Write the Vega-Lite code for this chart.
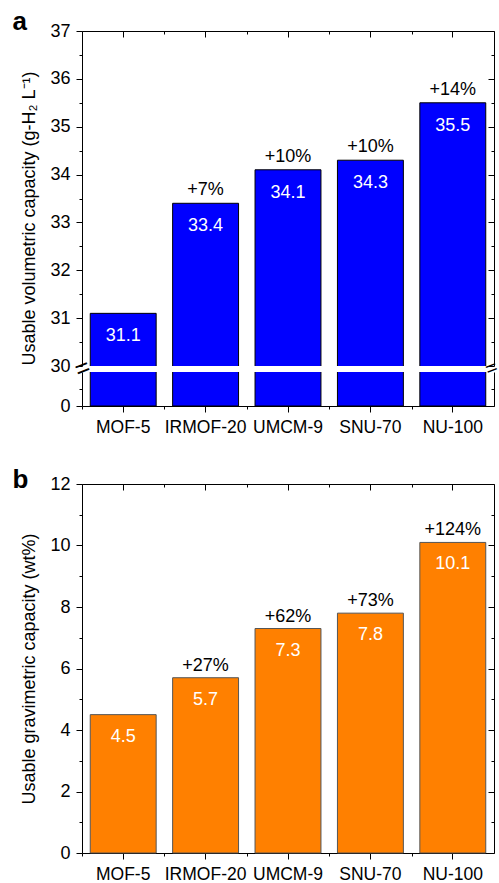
{
  "$schema": "https://vega.github.io/schema/vega-lite/v6.json",
  "padding": {"left": 12, "top": 8, "right": 2, "bottom": 5},
  "config": {
    "font": "Liberation Sans",
    "view": {"stroke": null},
    "axis": {"grid": false, "domainColor": "black", "tickColor": "black", "labelColor": "black", "titleColor": "black", "labelFont": "Liberation Sans", "titleFont": "Liberation Sans", "labelFontSize": 18, "titleFontSize": 18, "titleFontWeight": "normal", "domainWidth": 1, "tickWidth": 1}
  },
  "datasets": {
    "vol": [
      {"mof": "MOF-5", "cap": 31.1, "pct": ""},
      {"mof": "IRMOF-20", "cap": 33.4, "pct": "+7%"},
      {"mof": "UMCM-9", "cap": 34.1, "pct": "+10%"},
      {"mof": "SNU-70", "cap": 34.3, "pct": "+10%"},
      {"mof": "NU-100", "cap": 35.5, "pct": "+14%"}
    ],
    "grav": [
      {"mof": "MOF-5", "cap": 4.5, "pct": ""},
      {"mof": "IRMOF-20", "cap": 5.7, "pct": "+27%"},
      {"mof": "UMCM-9", "cap": 7.3, "pct": "+62%"},
      {"mof": "SNU-70", "cap": 7.8, "pct": "+73%"},
      {"mof": "NU-100", "cap": 10.1, "pct": "+124%"}
    ]
  },
  "spacing": 30,
  "vconcat": [
    {
      "spacing": 6,
      "bounds": "flush",
      "vconcat": [
        {
          "width": 412,
          "height": 335,
          "data": {"name": "vol"},
          "layer": [
            {
              "mark": {"type": "bar", "fill": "#0000ff", "stroke": "black", "strokeWidth": 1, "clip": true},
              "encoding": {
                "x": {"field": "mof", "type": "nominal", "sort": null, "scale": {"paddingInner": 0.2, "paddingOuter": 0.1},
                      "axis": {"orient": "top", "labels": false, "tickSize": -6,
                               "title": "a", "titleX": -70, "titleY": -2, "titleAngle": 0, "titleAlign": "left", "titleBaseline": "alphabetic", "titleFontSize": 26, "titleFontWeight": "bold"}},
                "y": {"field": "cap", "type": "quantitative", "scale": {"domain": [30, 37], "nice": false, "zero": false},
                      "axis": {"orient": "left", "values": [30, 30.5, 31, 31.5, 32, 32.5, 33, 33.5, 34, 34.5, 35, 35.5, 36, 36.5, 37],
                               "labelExpr": "datum.value % 1 === 0 ? format(datum.value, 'd') : ''",
                               "tickSize": {"condition": {"test": "datum.value % 1 !== 0", "value": 3}, "value": 6},
                               "labelPadding": 6, "title": "Usable volumetric capacity (g-H₂ L⁻¹)", "titleY": 187, "titlePadding": 11}}
              }
            },
            {
              "mark": {"type": "text", "color": "white", "fontSize": 18, "baseline": "middle", "dy": 23},
              "encoding": {
                "x": {"field": "mof", "type": "nominal", "sort": null,
                      "axis": {"orient": "top", "labels": false, "title": null, "bandPosition": 0, "tickOffset": -8.24, "tickSize": -3, "domain": false}},
                "y": {"field": "cap", "type": "quantitative",
                      "axis": {"orient": "right", "values": [30, 30.5, 31, 31.5, 32, 32.5, 33, 33.5, 34, 34.5, 35, 35.5, 36, 36.5, 37],
                               "labels": false, "title": null,
                               "tickSize": {"condition": {"test": "datum.value % 1 !== 0", "value": -3}, "value": -6}}},
                "text": {"field": "cap", "type": "quantitative", "format": ".1f"}
              }
            },
            {
              "mark": {"type": "text", "color": "black", "fontSize": 18, "baseline": "alphabetic", "dy": -8},
              "encoding": {
                "x": {"field": "mof", "type": "nominal", "sort": null, "axis": null},
                "y": {"field": "cap", "type": "quantitative", "axis": null},
                "text": {"field": "pct"}
              }
            }
          ],
          "resolve": {"axis": {"x": "independent", "y": "independent"}}
        },
        {
          "width": 412,
          "height": 34,
          "data": {"name": "vol"},
          "layer": [
            {
              "mark": {"type": "bar", "fill": "#0000ff", "stroke": "black", "strokeWidth": 1, "clip": true},
              "encoding": {
                "x": {"field": "mof", "type": "nominal", "sort": null, "scale": {"paddingInner": 0.2, "paddingOuter": 0.1},
                      "axis": {"orient": "bottom", "title": null, "labelAngle": 0, "tickSize": 6, "labelPadding": 6, "labelFontSize": 17.5}},
                "y": {"field": "cap", "type": "quantitative", "scale": {"domain": [0, 2], "nice": false},
                      "axis": {"orient": "left", "values": [0, 1], "labelExpr": "datum.value === 0 ? '0' : ''",
                               "tickSize": {"condition": {"test": "datum.value !== 0", "value": 3}, "value": 6},
                               "labelPadding": 6, "title": null}}
              }
            },
            {
              "mark": {"type": "bar", "opacity": 0, "clip": true},
              "encoding": {
                "x": {"field": "mof", "type": "nominal", "sort": null,
                      "axis": {"orient": "bottom", "labels": false, "title": null, "bandPosition": 0, "tickOffset": -8.24, "tickSize": 3, "domain": false}},
                "y": {"field": "cap", "type": "quantitative",
                      "axis": {"orient": "right", "values": [0, 1], "labels": false, "title": null,
                               "tickSize": {"condition": {"test": "datum.value !== 0", "value": -3}, "value": -6}}}
              }
            },
            {
              "mark": {"type": "bar", "opacity": 0, "clip": true},
              "encoding": {
                "x": {"field": "mof", "type": "nominal", "sort": null, "axis": null},
                "y": {"field": "cap", "type": "quantitative",
                      "axis": {"orient": "left", "values": [2], "labelExpr": "'='", "ticks": false, "tickSize": 0, "domain": false, "title": null,
                               "labelPadding": 0, "labelAlign": "center", "labelBaseline": "middle", "labelAngle": -21, "labelOffset": -4, "labelFontSize": 25, "labelFlush": false, "labelFont": "Liberation Sans"}}
              }
            },
            {
              "mark": {"type": "bar", "opacity": 0, "clip": true},
              "encoding": {
                "x": {"field": "mof", "type": "nominal", "sort": null, "axis": null},
                "y": {"field": "cap", "type": "quantitative",
                      "axis": {"orient": "right", "values": [2], "labelExpr": "'='", "ticks": false, "tickSize": 0, "domain": false, "title": null,
                               "labelPadding": -3, "labelAlign": "center", "labelBaseline": "middle", "labelAngle": -21, "labelOffset": -4, "labelFontSize": 20, "labelFlush": false, "labelFont": "Liberation Sans"}}
              }
            }
          ],
          "resolve": {"axis": {"x": "independent", "y": "independent"}}
        }
      ]
    },
    {
      "width": 412,
      "height": 369,
      "data": {"name": "grav"},
      "layer": [
        {
          "mark": {"type": "bar", "fill": "#ff8000", "stroke": "#555555", "strokeWidth": 1},
          "encoding": {
            "x": {"field": "mof", "type": "nominal", "sort": null, "scale": {"paddingInner": 0.2, "paddingOuter": 0.1},
                  "axis": {"orient": "bottom", "title": null, "labelAngle": 0, "tickSize": 6, "labelPadding": 6, "labelFontSize": 17.5}},
            "y": {"field": "cap", "type": "quantitative", "scale": {"domain": [0, 12], "nice": false},
                  "axis": {"orient": "left", "values": [0, 1, 2, 3, 4, 5, 6, 7, 8, 9, 10, 11, 12],
                           "labelExpr": "datum.value % 2 === 0 ? datum.label : ''",
                           "tickSize": {"condition": {"test": "datum.value % 2 !== 0", "value": 3}, "value": 6},
                           "labelPadding": 6, "title": "Usable gravimetric capacity (wt%)", "titlePadding": 11}}
          }
        },
        {
          "mark": {"type": "text", "color": "white", "fontSize": 18, "baseline": "middle", "dy": 22},
          "encoding": {
            "x": {"field": "mof", "type": "nominal", "sort": null,
                  "axis": {"orient": "bottom", "labels": false, "title": null, "bandPosition": 0, "tickOffset": -8.24, "tickSize": 3, "domain": false}},
            "y": {"field": "cap", "type": "quantitative",
                  "axis": {"orient": "right", "values": [0, 1, 2, 3, 4, 5, 6, 7, 8, 9, 10, 11, 12], "labels": false, "title": null,
                           "tickSize": {"condition": {"test": "datum.value % 2 !== 0", "value": -3}, "value": -6}}},
            "text": {"field": "cap", "type": "quantitative", "format": ".1f"}
          }
        },
        {
          "mark": {"type": "text", "color": "black", "fontSize": 18, "baseline": "alphabetic", "dy": -7},
          "encoding": {
            "x": {"field": "mof", "type": "nominal", "sort": null,
                  "axis": {"orient": "top", "labels": false, "tickSize": -6,
                           "title": "b", "titleX": -70, "titleY": 3, "titleAngle": 0, "titleAlign": "left", "titleBaseline": "alphabetic", "titleFontSize": 26, "titleFontWeight": "bold"}},
            "y": {"field": "cap", "type": "quantitative", "axis": null},
            "text": {"field": "pct"}
          }
        },
        {
          "mark": {"type": "bar", "opacity": 0},
          "encoding": {
            "x": {"field": "mof", "type": "nominal", "sort": null,
                  "axis": {"orient": "top", "labels": false, "title": null, "bandPosition": 0, "tickOffset": -8.24, "tickSize": -3, "domain": false}},
            "y": {"field": "cap", "type": "quantitative", "axis": null}
          }
        }
      ],
      "resolve": {"axis": {"x": "independent", "y": "independent"}}
    }
  ]
}
